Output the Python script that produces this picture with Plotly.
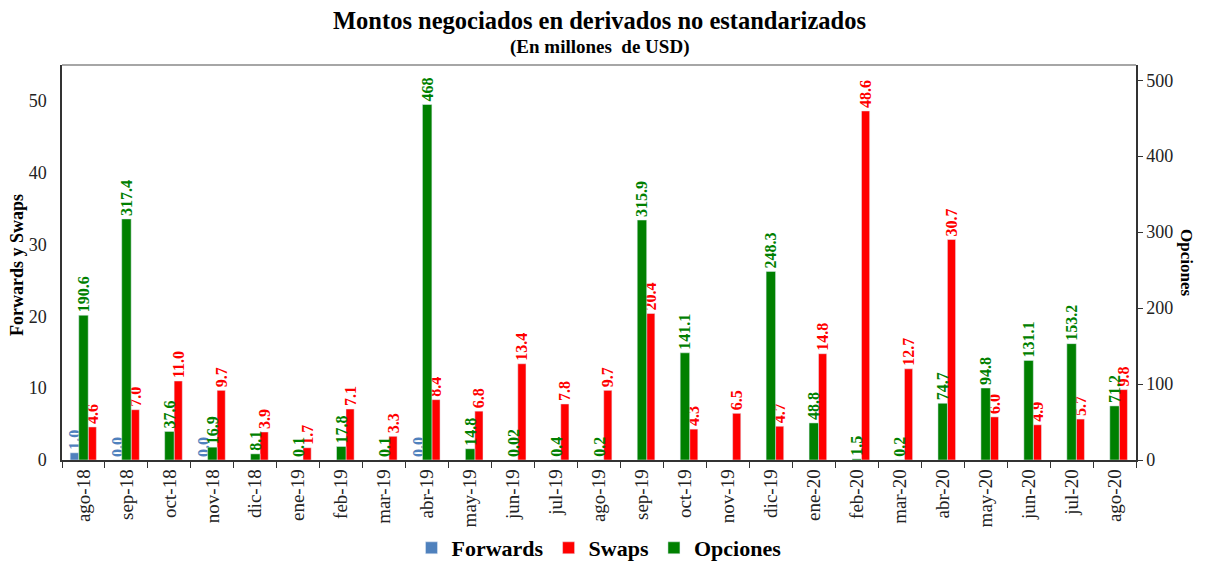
import plotly.graph_objects as go

# --- DATA ---
months = ['ago-18', 'sep-18', 'oct-18', 'nov-18', 'dic-18', 'ene-19', 'feb-19', 'mar-19',
          'abr-19', 'may-19', 'jun-19', 'jul-19', 'ago-19', 'sep-19', 'oct-19', 'nov-19',
          'dic-19', 'ene-20', 'feb-20', 'mar-20', 'abr-20', 'may-20', 'jun-20', 'jul-20', 'ago-20']
forwards = [1.0, 0.0, None, 0.0, None, None, None, None, 0.0, None, None, None, None,
            None, None, None, None, None, None, None, None, None, None, None, None]
swaps = [4.6, 7.0, 11.0, 9.7, 3.9, 1.7, 7.1, 3.3, 8.4, 6.8, 13.4, 7.8, 9.7,
         20.4, 4.3, 6.5, 4.7, 14.8, 48.6, 12.7, 30.7, 6.0, 4.9, 5.7, 9.8]
opciones = [190.6, 317.4, 37.6, 16.9, 8.1, 0.1, 17.8, 0.1, 468, 14.8, 0.02, 0.4, 0.2,
            315.9, 141.1, None, 248.3, 48.8, 1.5, 0.2, 74.7, 94.8, 131.1, 153.2, 71.2]
opciones_labels = ['190.6', '317.4', '37.6', '16.9', '8.1', '0.1', '17.8', '0.1', '468', '14.8',
                   '0.02', '0.4', '0.2', '315.9', '141.1', '', '248.3', '48.8', '1.5', '0.2',
                   '74.7', '94.8', '131.1', '153.2', '71.2']
# -------------

SERIF = 'Liberation Serif'
BLUE, RED, GREEN = '#4F81BD', '#FF0000', '#008000'

fw_labels = ['' if v is None else f'{v:.1f}' for v in forwards]
sw_labels = [f'{v:.1f}' for v in swaps]

fig = go.Figure()

fig.add_trace(go.Bar(
    x=months, y=forwards, name='Forwards', marker_color=BLUE,
    offset=-0.31, width=0.2,
    text=fw_labels, textposition='outside', textangle=-90,
    textfont=dict(family=SERIF, size=16, color=BLUE, weight='bold'),
    constraintext='none', cliponaxis=False
))
fig.add_trace(go.Bar(
    x=months, y=swaps, name='Swaps', marker_color=RED,
    offset=0.11, width=0.19,
    text=sw_labels, textposition='outside', textangle=-90,
    textfont=dict(family=SERIF, size=16, color=RED, weight='bold'),
    constraintext='none', cliponaxis=False
))
fig.add_trace(go.Bar(
    x=months, y=opciones, name='Opciones', marker_color=GREEN, yaxis='y2',
    offset=-0.11, width=0.22,
    text=opciones_labels, textposition='outside', textangle=-90,
    textfont=dict(family=SERIF, size=16, color=GREEN, weight='bold'),
    constraintext='none', cliponaxis=False
))

fig.update_layout(
    width=1205, height=561,
    margin=dict(l=62, r=69, t=65, b=101),
    plot_bgcolor='white', paper_bgcolor='white',
    font=dict(family=SERIF, size=18, color='#222'),
    showlegend=True,
    legend=dict(orientation='h', x=0.5, xanchor='center', yref='container',
                y=1 - 548 / 561, yanchor='middle',
                font=dict(family=SERIF, size=22, color='black', weight='bold'),
                traceorder='normal', itemwidth=30),
    xaxis=dict(type='category', tickangle=-90, tickson='boundaries', ticks='outside',
               ticklen=6, tickcolor='#333', showline=True, linecolor='#333', linewidth=1.5,
               showgrid=False, automargin=False,
               tickfont=dict(family=SERIF, size=19, color='#222')),
    yaxis=dict(range=[0, 55], tickvals=[0, 10, 20, 30, 40, 50], showline=True,
               linecolor='#333', linewidth=1.5, ticks='outside', ticklen=10,
               tickcolor='rgba(0,0,0,0)', showgrid=False, zeroline=False, automargin=False,
               tickfont=dict(family=SERIF, size=18, color='#222')),
    yaxis2=dict(range=[0, 520], tickvals=[0, 100, 200, 300, 400, 500], overlaying='y',
                side='right', showline=True, linecolor='#333', linewidth=1.5,
                ticks='outside', ticklen=5, tickcolor='#333', showgrid=False, zeroline=False,
                automargin=False, tickfont=dict(family=SERIF, size=18, color='#222')),
    annotations=[
        dict(text='<b>Montos negociados en derivados no estandarizados</b>',
             xref='paper', yref='paper', x=0.5, y=(460 - 20) / 395,
             xanchor='center', yanchor='middle', showarrow=False,
             font=dict(family=SERIF, size=24.5, color='black')),
        dict(text='<b>(En millones  de USD)</b>',
             xref='paper', yref='paper', x=0.5, y=(460 - 47) / 395,
             xanchor='center', yanchor='middle', showarrow=False,
             font=dict(family=SERIF, size=19, color='black')),
        dict(text='<b>Forwards y Swaps</b>', textangle=-90, xref='paper', yref='paper',
             x=(17 - 62) / 1074, y=(460 - 265) / 395, xanchor='center', yanchor='middle',
             showarrow=False, font=dict(family=SERIF, size=18, color='black')),
        dict(text='<b>Opciones</b>', textangle=90, xref='paper', yref='paper',
             x=(1187 - 62) / 1074, y=(460 - 262) / 395, xanchor='center', yanchor='middle',
             showarrow=False, font=dict(family=SERIF, size=17, color='black')),
    ],
    shapes=[dict(type='line', xref='paper', yref='paper', x0=0, x1=1, y0=1, y1=1,
                 line=dict(color='#A6A6A6', width=2))]
)

fig.write_html('out.html', config={'displayModeBar': False},
               post_script="document.body.style.margin='0';")
